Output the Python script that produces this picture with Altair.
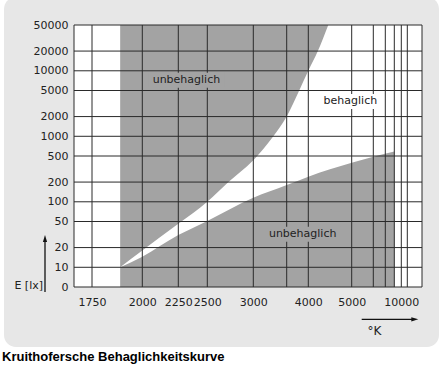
import altair as alt
import pandas as pd

# ---------------- data ----------------
# vertical grid lines (colour temperature in K) incl. frame edges
x_grid = [1650, 1750, 2000, 2250, 2500, 3000, 3500, 4000, 5000, 6000, 7000, 8000, 10000, 12000, 20000]
x_labels = [1750, 2000, 2250, 2500, 3000, 4000, 5000, 10000]
# horizontal grid lines (illuminance in lx) incl. frame edges
y_grid = [5, 10, 20, 50, 100, 200, 500, 1000, 2000, 5000, 10000, 20000, 50000]
y_labels = [5, 10, 20, 50, 100, 200, 500, 1000, 2000, 5000, 10000, 20000, 50000]

# upper limit of the comfortable zone
upper_T = [1890, 2000, 2250, 2500, 2730, 3000, 3300, 3500, 3790, 4000, 4220, 4460]
upper_E = [10, 18, 46, 100, 200, 430, 1000, 2000, 5000, 10000, 20000, 50000]
# lower limit of the comfortable zone
lower_T = [1890, 2000, 2250, 2500, 3000, 3500, 4000, 5000, 6000, 8000]
lower_E = [10, 14.5, 31, 51, 115, 180, 242, 395, 488, 586]

region_text = ["unbehaglich", "behaglich", "unbehaglich"]
region_T = [2320, 4970, 3870]
region_E = [7200, 3400, 32]
region_bg = ["gray", "white", "gray"]

caption = "Kruithofersche Behaglichkeitskurve"
y_title = "E [lx]"
x_title = "°K"

# piecewise scale reproducing the drawing's temperature axis
x_domain = [1650, 1750, 2000, 2250, 2500, 3000, 3500, 4000, 5000, 6000, 7000, 8000, 10000, 12000, 20000]
x_range = [0, 18, 68.3, 104.3, 133.3, 179.3, 212.7, 234.3, 277.7, 299.3, 311.3, 320.3, 327.3, 333.3, 348]

GRAY = "#a3a3a3"
PANEL = "#e7e7e7"
LINE = "#2a2a2a"
TXT = "#222222"
FONT = "DejaVu Sans"

xscale = alt.Scale(type="linear", domain=x_domain, range=x_range, zero=False, nice=False)
yscale = alt.Scale(type="log", domain=[5, 50000], nice=False)

xaxis = alt.Axis(values=x_labels, format="d", grid=False, ticks=False, domain=False,
                 labelFont=FONT, labelFontSize=11, labelColor=TXT, labelPadding=9,
                 labelBaseline="top", labelOverlap=False, labelFlush=False, title=None, zindex=1)
yaxis = alt.Axis(values=y_labels, format="d", grid=False, ticks=False, domain=False,
                 labelExpr="datum.value == 5 ? '0' : datum.label",
                 labelFont=FONT, labelFontSize=11, labelColor=TXT, labelPadding=6,
                 labelOverlap=False, labelFlush=False, title=None, zindex=1)

def X(f):
    return alt.X(f, scale=xscale, axis=xaxis)

def Y(f):
    return alt.Y(f, scale=yscale, axis=yaxis)

one = pd.DataFrame({"k": [0]})

upper_df = pd.DataFrame({"T": upper_T, "E": upper_E, "top": [50000] * len(upper_T)})
lower_df = pd.DataFrame({"T": lower_T, "E": lower_E, "bot": [5] * len(lower_T)})
xg_df = pd.DataFrame({"T": x_grid})
yg_df = pd.DataFrame({"E": y_grid})
reg_df = pd.DataFrame({"T": region_T, "E": region_E, "txt": region_text, "bg": region_bg})

panel = alt.Chart(one).mark_rect(color=PANEL, cornerRadius=12).encode(
    x=alt.value(-70), x2=alt.value(365), y=alt.value(-28), y2=alt.value(322))
plotbg = alt.Chart(one).mark_rect(color="white").encode(
    x=alt.value(0), x2=alt.value(348), y=alt.value(0), y2=alt.value(262))

upper_area = alt.Chart(upper_df).mark_area(color=GRAY, interpolate="monotone").encode(
    x=X("T:Q"), y=Y("E:Q"), y2=alt.Y2("top:Q"))
lower_area = alt.Chart(lower_df).mark_area(color=GRAY, interpolate="monotone").encode(
    x=X("T:Q"), y=Y("E:Q"), y2=alt.Y2("bot:Q"))

xgrid = alt.Chart(xg_df).mark_rule(color=LINE, strokeWidth=1).encode(x=X("T:Q"))
ygrid = alt.Chart(yg_df).mark_rule(color=LINE, strokeWidth=1).encode(y=Y("E:Q"))

# knock-out boxes behind the region labels
box_gray = alt.Chart(reg_df).transform_filter("datum.bg == 'gray'").mark_rect(
    color=GRAY, width=76, height=15).encode(x=X("T:Q"), y=Y("E:Q"))
box_white = alt.Chart(reg_df).transform_filter("datum.bg == 'white'").mark_rect(
    color="white", width=60, height=15).encode(x=X("T:Q"), y=Y("E:Q"))
labels = alt.Chart(reg_df).mark_text(font=FONT, fontSize=11, color=TXT).encode(
    x=X("T:Q"), y=Y("E:Q"), text="txt:N")

# axis titles with arrows
ytitle = alt.Chart(pd.DataFrame({"t": [y_title]})).mark_text(
    font=FONT, fontSize=11, color=TXT, align="right", baseline="middle").encode(
    x=alt.value(-31), y=alt.value(261), text="t:N")
yarrow = alt.Chart(one).mark_rule(color="#111", strokeWidth=1.3).encode(
    x=alt.value(-29), y=alt.value(267), y2=alt.value(214))
yhead = alt.Chart(one).mark_point(shape="M0,-1L0.6,1L-0.6,1Z", filled=True, size=49,
                                  color="#111", opacity=1).encode(
    x=alt.value(-29), y=alt.value(213.5))

xtitle = alt.Chart(pd.DataFrame({"t": [x_title]})).mark_text(
    font=FONT, fontSize=12, color=TXT, align="center", baseline="middle").encode(
    x=alt.value(300.5), y=alt.value(306), text="t:N")
xarrow = alt.Chart(one).mark_rule(color="#111", strokeWidth=1.3).encode(
    x=alt.value(287.7), x2=alt.value(340), y=alt.value(294.3))
xhead = alt.Chart(one).mark_point(shape="M1,0L-1,-0.6L-1,0.6Z", filled=True, size=49,
                                  color="#111", opacity=1).encode(
    x=alt.value(340.8), y=alt.value(294.3))

cap = alt.Chart(pd.DataFrame({"t": [caption]})).mark_text(
    font="Liberation Sans", fontSize=13, fontWeight="bold", color="#000",
    align="left", baseline="alphabetic").encode(
    x=alt.value(-72), y=alt.value(336), text="t:N")

chart = alt.layer(
    panel, plotbg, upper_area, lower_area, xgrid, ygrid, box_gray, box_white, labels,
    ytitle, yarrow, yhead, xtitle, xarrow, xhead, cap
).properties(
    width=348, height=262,
    autosize=alt.AutoSizeParams(type="none"),
    padding={"left": 74, "top": 25, "right": 21, "bottom": 88},
    background="white",
).configure_view(strokeWidth=0)

chart.save("out.html", embed_options={"renderer": "svg", "actions": False})
